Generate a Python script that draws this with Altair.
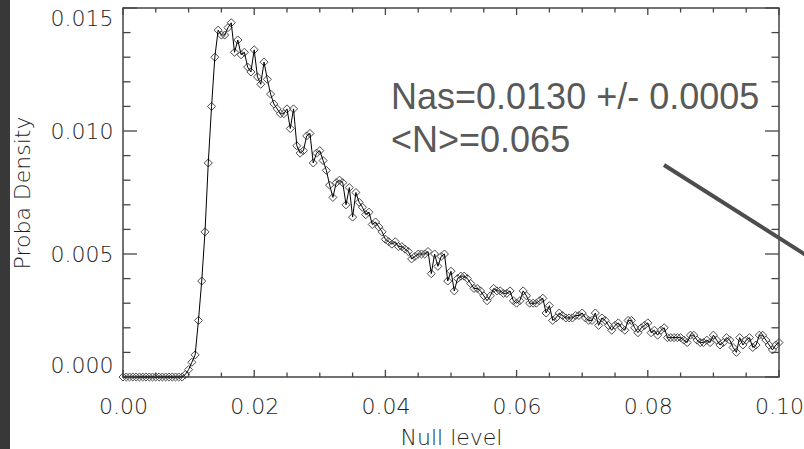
import altair as alt
import pandas as pd

# ---- data ----
null_level = [round(i * 0.0005, 4) for i in range(201)]
proba_density = [
    0, 0, 0, 0, 0, 0, 0, 0, 0, 0,
    0, 0, 0, 0, 0, 0, 0, 0, 0, 0.0001,
    0.0003, 0.0006, 0.0009, 0.0023, 0.0039, 0.0059, 0.0087, 0.0110, 0.0130, 0.0141,
    0.0139, 0.0139, 0.0142, 0.0144, 0.0132, 0.0137, 0.0131, 0.0132, 0.0126, 0.0124,
    0.0133, 0.0122, 0.0119, 0.0128, 0.0121, 0.0115, 0.0111, 0.0109, 0.0107, 0.0107,
    0.0109, 0.0101, 0.0109, 0.0094, 0.0091, 0.0092, 0.0098, 0.0099, 0.0087, 0.0091,
    0.0092, 0.0088, 0.0084, 0.0078, 0.0073, 0.0079, 0.0080, 0.0079, 0.0070, 0.0077,
    0.0065, 0.0075, 0.0071, 0.0069, 0.0066, 0.0067, 0.0062, 0.0063, 0.0061, 0.0059,
    0.0056, 0.0055, 0.0054, 0.0055, 0.0053, 0.0053, 0.0052, 0.0051, 0.0048, 0.0049,
    0.0050, 0.0050, 0.0050, 0.0051, 0.0042, 0.0050, 0.0045, 0.0049, 0.0050, 0.0039,
    0.0043, 0.0035, 0.0040, 0.0041, 0.0041, 0.0040, 0.0038, 0.0036, 0.0036, 0.0035,
    0.0033, 0.0031, 0.0033, 0.0036, 0.0035, 0.0035, 0.0034, 0.0034, 0.0035, 0.0031,
    0.0030, 0.0031, 0.0035, 0.0033, 0.0030, 0.0030, 0.0030, 0.0031, 0.0032, 0.0026,
    0.0029, 0.0023, 0.0024, 0.0026, 0.0025, 0.0024, 0.0024, 0.0024, 0.0025, 0.0025,
    0.0026, 0.0024, 0.0023, 0.0023, 0.0026, 0.0021, 0.0024, 0.0023, 0.0021, 0.0019,
    0.0021, 0.0022, 0.0020, 0.0019, 0.0023, 0.0023, 0.0020, 0.0018, 0.0020, 0.0021,
    0.0022, 0.0018, 0.0019, 0.0017, 0.0019, 0.0020, 0.0016, 0.0016, 0.0016, 0.0016,
    0.0016, 0.0015, 0.0014, 0.0017, 0.0017, 0.0015, 0.0014, 0.0014, 0.0015, 0.0014,
    0.0017, 0.0015, 0.0013, 0.0014, 0.0016, 0.0015, 0.0012, 0.0010, 0.0016, 0.0013,
    0.0015, 0.0016, 0.0012, 0.0013, 0.0017, 0.0017, 0.0015, 0.0013, 0.0011, 0.0013,
    0.0014,
]
assert len(proba_density) == len(null_level)

x_major = [0.0, 0.02, 0.04, 0.06, 0.08, 0.10]
x_minor = [0.005, 0.01, 0.015, 0.025, 0.03, 0.035, 0.045, 0.05, 0.055,
           0.065, 0.07, 0.075, 0.085, 0.09, 0.095]
y_major = [0.0, 0.005, 0.010, 0.015]
y_minor = [0.001, 0.002, 0.003, 0.004, 0.006, 0.007, 0.008, 0.009,
           0.011, 0.012, 0.013, 0.014]
annotation = ["Nas=0.0130 +/- 0.0005", "<N>=0.065"]

W, H = 656, 369
FONT = "DejaVu Sans"
INK = "#1e1e1e"
TICK = "#444444"

df = pd.DataFrame({"x": null_level, "y": proba_density})
xs = alt.Scale(domain=[0, 0.1], nice=False, zero=False)
ys = alt.Scale(domain=[0, 0.015], nice=False, zero=False)

x_axis = alt.Axis(
    values=x_major, format=".2f", title="Null level", ticks=False, domain=False,
    grid=False, labelFlush=False, labelFont=FONT, labelFontSize=22,
    labelFontWeight=200, labelColor=INK, labelPadding=19, titleFont=FONT,
    titleFontSize=22, titleFontWeight=200, titleColor=INK, titlePadding=10)
y_axis = alt.Axis(
    values=y_major, format=".3f", title="Proba Density", ticks=False,
    domain=False, grid=False, labelFlush=True, labelFont=FONT, labelFontSize=22,
    labelFontWeight=200, labelColor=INK, labelPadding=10, titleFont=FONT,
    titleFontSize=22, titleFontWeight=200, titleColor=INK, titlePadding=16)
X = alt.X("x:Q", scale=xs, axis=x_axis)
Y = alt.Y("y:Q", scale=ys, axis=y_axis)

base = alt.Chart(df)
pts = base.mark_point(shape="diamond", size=65, filled=False, color="#4a4a4a",
                      strokeWidth=1, opacity=1).encode(x=X, y=Y)
line = base.mark_line(color="black", strokeWidth=1).encode(x=X, y=Y)


def xticks(vals, length):
    d = alt.Chart(pd.DataFrame({"x": vals}))
    bot = d.mark_rule(color=TICK, strokeWidth=1.3).encode(
        x=X, y=alt.value(H), y2=alt.value(H - length))
    top = d.mark_rule(color=TICK, strokeWidth=1.3).encode(
        x=X, y=alt.value(0), y2=alt.value(length))
    return [bot, top]


def yticks(vals, length):
    d = alt.Chart(pd.DataFrame({"y": vals}))
    left = d.mark_rule(color=TICK, strokeWidth=1.3).encode(
        y=Y, x=alt.value(0), x2=alt.value(length))
    right = d.mark_rule(color=TICK, strokeWidth=1.3).encode(
        y=Y, x=alt.value(W), x2=alt.value(W - length))
    return [left, right]


one = alt.Chart(pd.DataFrame({"t": ["\n".join(annotation)]}))
note = one.mark_text(align="left", baseline="alphabetic", font="Liberation Sans",
                     fontSize=36, color="#595959", lineBreak="\n", lineHeight=43).encode(
    text="t:N", x=alt.value(268), y=alt.value(101))
arrow = one.mark_rule(color="#4d4d4d", strokeWidth=4).encode(
    x=alt.value(541), y=alt.value(157), x2=alt.value(690), y2=alt.value(251.5))
strip = one.mark_rect(color="#383838").encode(
    x=alt.value(-123), x2=alt.value(-113), y=alt.value(-8), y2=alt.value(441))

layers = ([strip, pts, line]
          + xticks(x_major, 7) + xticks(x_minor, 4.5)
          + yticks(y_major, 14) + yticks(y_minor, 7.5)
          + [note, arrow])

chart = alt.layer(*layers).properties(
    width=W, height=H,
    autosize=alt.AutoSizeParams(type="none"),
    padding={"left": 123, "top": 8, "right": 25, "bottom": 72},
    background="white",
).configure_view(stroke="#444444", strokeWidth=1.5)

chart.save("out.html", embed_options={"renderer": "svg", "actions": False})
